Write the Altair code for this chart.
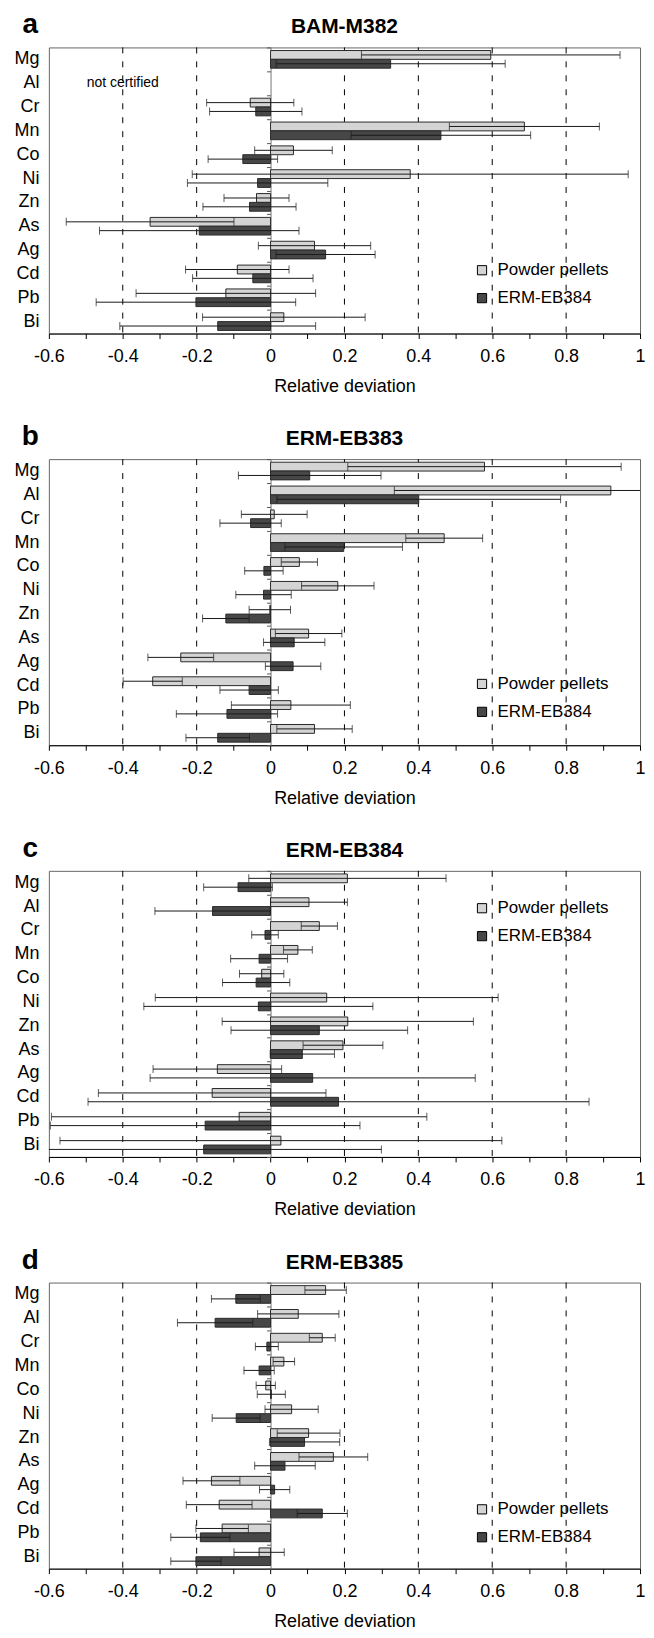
import altair as alt
import pandas as pd

elements = ["Mg", "Al", "Cr", "Mn", "Co", "Ni", "Zn", "As", "Ag", "Cd", "Pb", "Bi"]
series_names = ["Powder pellets", "ERM-EB384"]
series_colors = ["#d4d4d4", "#474747"]

panel_letters = ["a", "b", "c", "d"]
panel_titles = ["BAM-M382", "ERM-EB383", "ERM-EB384", "ERM-EB385"]

# Panel a (BAM-M382) - Al not certified
a_pp = [0.596, None, -0.055, 0.687, 0.062, 0.378, -0.038, -0.326, 0.119, -0.090, -0.121, 0.036]
a_pp_err = [0.350, None, 0.118, 0.203, 0.105, 0.590, 0.088, 0.227, 0.152, 0.140, 0.243, 0.220]
a_erm = [0.325, None, -0.040, 0.461, -0.075, -0.035, -0.057, -0.193, 0.149, -0.048, -0.202, -0.143]
a_erm_err = [0.310, None, 0.125, 0.243, 0.094, 0.190, 0.126, 0.270, 0.134, 0.163, 0.270, 0.265]

# Panel b (ERM-EB383)
b_pp = [0.579, 0.921, 0.010, 0.470, 0.078, 0.182, -0.002, 0.103, -0.243, -0.319, 0.055, 0.119]
b_pp_err = [0.370, 0.586, 0.089, 0.104, 0.049, 0.098, 0.056, 0.090, 0.089, 0.080, 0.161, 0.102]
b_erm = [0.106, 0.401, -0.054, 0.198, -0.018, -0.019, -0.121, 0.064, 0.061, -0.058, -0.118, -0.143]
b_erm_err = [0.193, 0.384, 0.083, 0.159, 0.052, 0.075, 0.063, 0.083, 0.075, 0.079, 0.137, 0.086]

# Panel c (ERM-EB384)
c_pp = [0.208, 0.104, 0.132, 0.074, -0.024, 0.152, 0.209, 0.196, -0.144, -0.158, -0.085, 0.028]
c_pp_err = [0.267, 0.104, 0.049, 0.039, 0.060, 0.464, 0.340, 0.108, 0.174, 0.308, 0.508, 0.598]
c_erm = [-0.088, -0.157, -0.015, -0.031, -0.039, -0.033, 0.132, 0.086, 0.114, 0.184, -0.177, -0.181]
c_erm_err = [0.093, 0.156, 0.036, 0.077, 0.091, 0.310, 0.239, 0.087, 0.440, 0.678, 0.419, 0.481]

# Panel d (ERM-EB385)
d_pp = [0.149, 0.075, 0.140, 0.036, -0.013, 0.057, 0.103, 0.170, -0.160, -0.139, -0.131, -0.031]
d_pp_err = [0.056, 0.110, 0.035, 0.029, 0.026, 0.072, 0.085, 0.093, 0.077, 0.089, 0.071, 0.068]
d_erm = [-0.094, -0.150, -0.010, -0.031, 0.002, -0.093, 0.092, 0.039, 0.011, 0.140, -0.190, -0.202]
d_erm_err = [0.066, 0.102, 0.031, 0.041, 0.038, 0.065, 0.095, 0.082, 0.041, 0.068, 0.080, 0.068]

x_domain = [-0.6, 1.0]
x_ticks = [-0.6, -0.5, -0.4, -0.3, -0.2, -0.1, 0, 0.1, 0.2, 0.3, 0.4, 0.5, 0.6, 0.7, 0.8, 0.9, 1]
grid_values = [-0.4, -0.2, 0.2, 0.4, 0.6, 0.8]
legend_ys = [215, 217, 29, 219]
note_text = "not certified"

W = 593
H = 287
FONT = "Liberation Sans"
LABEL_EXPR = "abs(round(datum.value*10)) % 2 == 0 ? '' + datum.value : ''"
SQUARE = "M-1,-1H1V1H-1Z"


def make_panel(letter, title, pp, pp_err, erm, erm_err, legend_y, note=None):
    rows = []
    for i, el in enumerate(elements):
        for s, vals, errs in ((series_names[0], pp, pp_err), (series_names[1], erm, erm_err)):
            v, e = vals[i], errs[i]
            if v is None:
                continue
            rows.append({"element": el, "series": s, "value": v, "lo": v - e, "hi": v + e})
    df = pd.DataFrame(rows)

    xs = alt.Scale(domain=x_domain, nice=False, zero=False)
    xa = alt.Axis(values=x_ticks, labelExpr=LABEL_EXPR, title="Relative deviation",
                  grid=False, tickSize=5, tickColor="black", domainColor="black",
                  labelFontSize=18, labelPadding=9, titleFontSize=18,
                  titleFontWeight="normal", titlePadding=12, labelFlush=False,
                  labelOverlap=False, labelColor="black", titleColor="black")
    ys = alt.Scale(domain=elements, paddingInner=0.26, paddingOuter=0.13)
    ya = alt.Axis(title=None, ticks=False, domain=False, labelFontSize=18,
                  labelPadding=10, labelColor="black")
    Y = alt.Y("element:N", sort=elements, scale=ys, axis=ya)
    YO = alt.YOffset("series:N", sort=series_names,
                     scale=alt.Scale(domain=series_names, paddingInner=0, paddingOuter=0))

    grid = alt.Chart(pd.DataFrame({"g": grid_values})).mark_rule(
        color="black", strokeWidth=1, strokeDash=[6, 8]
    ).encode(x=alt.X("g:Q", scale=xs, axis=xa))

    bars = alt.Chart(df).mark_bar(stroke="#2a2a2a", strokeWidth=1).encode(
        x=alt.X("value:Q", scale=xs, axis=xa),
        x2=alt.datum(0),
        y=Y,
        yOffset=YO,
        color=alt.Color("series:N", sort=series_names,
                        scale=alt.Scale(domain=series_names, range=series_colors),
                        legend=alt.Legend(title=None, orient="none", legendX=426, legendY=legend_y,
                                          symbolType=SQUARE, symbolSize=85,
                                          symbolStrokeColor="black", symbolStrokeWidth=1,
                                          labelFontSize=17, labelOffset=7, rowPadding=10,
                                          padding=0, labelColor="black")),
    )

    err = alt.Chart(df).mark_rule(color="#1a1a1a", strokeWidth=1, clip=True).encode(
        x=alt.X("lo:Q", scale=xs, axis=xa), x2="hi:Q", y=Y, yOffset=YO)
    cap_lo = alt.Chart(df).mark_tick(color="#1a1a1a", thickness=1, size=8, clip=True).encode(
        x=alt.X("lo:Q", scale=xs, axis=xa), y=Y, yOffset=YO)
    cap_hi = alt.Chart(df).mark_tick(color="#1a1a1a", thickness=1, size=8, clip=True).encode(
        x=alt.X("hi:Q", scale=xs, axis=xa), y=Y, yOffset=YO)

    letter_t = alt.Chart(pd.DataFrame({"letter": [letter]})).mark_text(
        fontSize=28, fontWeight="bold", align="center", baseline="alphabetic", color="black"
    ).encode(text="letter:N", x=alt.value(-18.7), y=alt.value(-14))

    title_t = alt.Chart(pd.DataFrame({"title": [title]})).mark_text(
        fontSize=21, fontWeight="bold", align="center", baseline="alphabetic", color="black"
    ).encode(text="title:N", x=alt.value(W / 2), y=alt.value(-14))

    layers = [grid, bars, err, cap_lo, cap_hi, letter_t, title_t]
    if note:
        note_t = alt.Chart(pd.DataFrame({"element": [note[0]], "x": [note[1]], "t": [note[2]]})).mark_text(
            fontSize=14, align="center", baseline="middle", color="black"
        ).encode(x=alt.X("x:Q", scale=xs, axis=xa), y=Y, text="t:N")
        layers.append(note_t)
    inner = alt.layer(*layers)

    zero = alt.Chart(pd.DataFrame({"element": elements, "x0": [0] * len(elements)})).mark_point(
        opacity=0
    ).encode(
        x=alt.X("x0:Q", scale=xs, axis=xa),
        y=alt.Y("element:N", sort=elements,
                scale=alt.Scale(domain=elements, paddingInner=0, paddingOuter=0),
                axis=alt.Axis(orient="left", offset=-W * 0.6 / 1.6, labels=False, title=None,
                              domainColor="#777777", tickColor="#555555", tickSize=4,
                              tickBand="extent", grid=False)),
    )

    return alt.layer(inner, zero).resolve_scale(y="independent").properties(width=W, height=H)


data_sets = [
    (a_pp, a_pp_err, a_erm, a_erm_err),
    (b_pp, b_pp_err, b_erm, b_erm_err),
    (c_pp, c_pp_err, c_erm, c_erm_err),
    (d_pp, d_pp_err, d_erm, d_erm_err),
]

panels = []
for i in range(4):
    pp, ppe, erm, erme = data_sets[i]
    note = ("Al", -0.40, note_text) if i == 0 else None
    panels.append(make_panel(panel_letters[i], panel_titles[i], pp, ppe, erm, erme, legend_ys[i], note))

chart = alt.vconcat(*panels, spacing=26).resolve_scale(color="independent").properties(
    padding={"left": 5, "right": 0, "top": 0, "bottom": 0}
).configure(font=FONT).configure_view(stroke="#666666", strokeWidth=1)

chart.save("out.html", embed_options={"renderer": "svg", "actions": False})
